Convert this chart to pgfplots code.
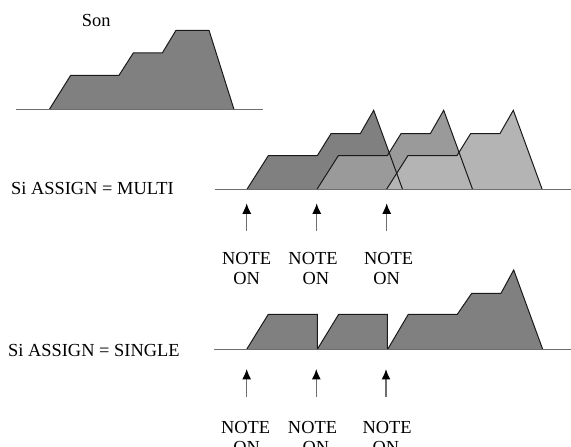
\documentclass[border=0pt]{standalone}
\usepackage{pgfplots}
\pgfplotsset{compat=1.18}
\usepackage{fontspec}
\setmainfont{Liberation Serif}
\usetikzlibrary{arrows.meta}
\definecolor{c1}{HTML}{808080}
\definecolor{c2}{HTML}{9A9A9A}
\definecolor{c3}{HTML}{B4B4B4}
\definecolor{basec}{HTML}{6E6E6E}
\definecolor{edge}{HTML}{1A1A1A}
\tikzset{lab/.style={font=\fontsize{18.4}{22}\selectfont, inner sep=0pt, text=black},
  arr/.style={draw=basec, line width=1.3pt, -{Latex[length=10.5pt,width=9pt,color=black,fill=black]}}}
\begin{document}
\begin{tikzpicture}
\begin{axis}[width=571pt,height=447pt,scale only axis,xmin=0,xmax=571,ymin=0,ymax=447,hide axis,clip=true]
% ---- Son
\addplot[fill=c1, draw=none] coordinates {(49.3,337.5) (70.7,371.7) (119,371.7) (133.3,394) (162.3,394) (176,416.7) (209,416.7) (234,337.5)};
\addplot[draw=edge, line width=1pt] coordinates {(49.3,337.5) (70.7,371.7) (119,371.7) (133.3,394) (162.3,394) (176,416.7) (209,416.7) (234,337.5)};
\addplot[draw=basec, line width=1.3pt] coordinates {(16,337.5) (263,337.5)};
% ---- MULTI
\addplot[fill=c1, draw=none] coordinates {(246.7,257.3) (268.3,291.3) (317.3,291.3) (331,313.3) (360.3,313.3) (373.7,336.7) (402.7,257.3)};
\addplot[fill=c2, draw=none] coordinates {(316.7,257.3) (338.3,291.3) (387.3,291.3) (401,313.3) (430.3,313.3) (443.7,336.7) (472.7,257.3)};
\addplot[fill=c3, draw=none] coordinates {(386.3,257.3) (407.9,291.3) (456.9,291.3) (470.6,313.3) (499.9,313.3) (513.3,336.7) (542.3,257.3)};
\addplot[draw=edge, line width=1pt] coordinates {(246.7,257.3) (268.3,291.3) (317.3,291.3) (331,313.3) (360.3,313.3) (373.7,336.7) (402.7,257.3)};
\addplot[draw=edge, line width=1pt] coordinates {(316.7,257.3) (338.3,291.3) (387.3,291.3) (401,313.3) (430.3,313.3) (443.7,336.7) (472.7,257.3)};
\addplot[draw=edge, line width=1pt] coordinates {(386.3,257.3) (407.9,291.3) (456.9,291.3) (470.6,313.3) (499.9,313.3) (513.3,336.7) (542.3,257.3)};
\addplot[draw=basec, line width=1.3pt] coordinates {(215,257.3) (571,257.3)};
% ---- SINGLE
\addplot[fill=c1, draw=none] coordinates {(246.7,97.7) (268.3,132.7) (317.3,132.7) (317.3,97.7)};
\addplot[fill=c1, draw=none] coordinates {(317.3,97.7) (338.7,132.7) (387.3,132.7) (387.3,97.7)};
\addplot[fill=c1, draw=none] coordinates {(387.7,97.7) (408.3,132.7) (457.3,132.7) (471.7,153.7) (501,153.7) (513.7,177) (542.7,97.7)};
\addplot[draw=edge, line width=1pt] coordinates {(246.7,97.7) (268.3,132.7) (317.3,132.7) (317.3,97.7)};
\addplot[draw=edge, line width=1pt] coordinates {(317.3,97.7) (338.7,132.7) (387.3,132.7) (387.3,97.7)};
\addplot[draw=edge, line width=1pt] coordinates {(387.7,97.7) (408.3,132.7) (457.3,132.7) (471.7,153.7) (501,153.7) (513.7,177) (542.7,97.7)};
\addplot[draw=basec, line width=1.3pt] coordinates {(214,97.7) (571,97.7)};
% ---- arrows
\addplot[arr] coordinates {(246.7,216.3) (246.7,243.7)};
\addplot[arr] coordinates {(316.7,216.3) (316.7,243.7)};
\addplot[arr] coordinates {(386.7,216.3) (386.7,243.7)};
\addplot[arr] coordinates {(246.7,50) (246.7,78)};
\addplot[arr] coordinates {(316.3,50) (316.3,78)};
\addplot[arr] coordinates {(386,50) (386,78)};
% ---- labels
\node[lab, anchor=base west] at (axis cs:81.7,420) {Son};
\node[lab, anchor=base west] at (axis cs:11,252) {Si ASSIGN = MULTI};
\node[lab, anchor=base west] at (axis cs:8,90.7) {Si ASSIGN = SINGLE};
\node[lab, anchor=base] at (axis cs:246.7,182.3) {NOTE};
\node[lab, anchor=base] at (axis cs:246.7,162.7) {ON};
\node[lab, anchor=base] at (axis cs:313,182.3) {NOTE};
\node[lab, anchor=base] at (axis cs:316,162.7) {ON};
\node[lab, anchor=base] at (axis cs:388.7,182.3) {NOTE};
\node[lab, anchor=base] at (axis cs:386.7,162.7) {ON};
\node[lab, anchor=base] at (axis cs:245.7,13.4) {NOTE};
\node[lab, anchor=base] at (axis cs:246.7,-6.2) {ON};
\node[lab, anchor=base] at (axis cs:312.5,13.4) {NOTE};
\node[lab, anchor=base] at (axis cs:316,-6.2) {ON};
\node[lab, anchor=base] at (axis cs:387.2,13.4) {NOTE};
\node[lab, anchor=base] at (axis cs:386,-6.2) {ON};
\end{axis}
\pgfresetboundingbox
\path[use as bounding box] (current axis.south west) rectangle (current axis.north east);
\end{tikzpicture}
\end{document}
